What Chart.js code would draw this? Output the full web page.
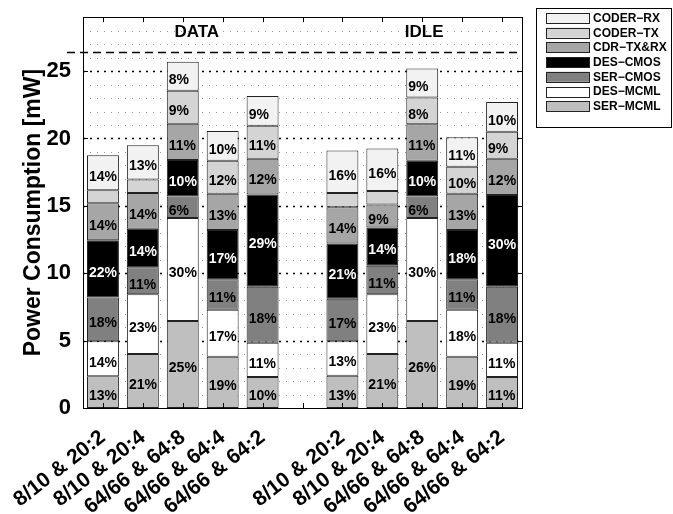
<!DOCTYPE html>
<html lang="en">
<head>
<meta charset="UTF-8">
<title>Power Consumption</title>
<script src="https://cdn.jsdelivr.net/npm/chart.js"></script>
<style>
  body { margin: 0; background: #fff; }
  #wrap { width: 673px; height: 514px; }
</style>
</head>
<body>
<div id="wrap"><canvas id="mycanvas"></canvas></div>
<script>
// categories (the 6th slot is the gap between DATA and IDLE)
const categories = ['8/10 & 20:2', '8/10 & 20:4', '64/66 & 64:8', '64/66 & 64:4', '64/66 & 64:2', '',
                    '8/10 & 20:2', '8/10 & 20:4', '64/66 & 64:8', '64/66 & 64:4', '64/66 & 64:2'];

// power per block [mW], bottom to top of the stack
const serMcml  = [2.35, 4.0, 6.45, 3.8, 2.3, null, 2.4, 4.0, 6.45, 3.8, 2.3];
const desMcml  = [2.6, 4.45, 7.65, 3.5, 2.55, null, 2.55, 4.45, 7.65, 3.5, 2.55];
const serCmos  = [3.25, 2.0, 1.6, 2.25, 4.15, null, 3.15, 2.1, 1.6, 2.25, 4.15];
const desCmos  = [4.25, 2.85, 2.7, 3.65, 6.85, null, 4.1, 2.85, 2.65, 3.65, 6.8];
const cdrTxRx  = [2.75, 2.65, 2.7, 2.7, 2.65, null, 2.7, 1.7, 2.7, 2.7, 2.7];
const coderTx  = [0.95, 1.0, 2.45, 2.45, 2.45, null, 1.05, 1.0, 2.0, 2.0, 2.0];
const coderRx  = [2.6, 2.55, 2.15, 2.2, 2.2, null, 3.15, 3.15, 2.15, 2.2, 2.2];

// percentage labels printed in each block
const serMcmlPct = [13, 21, 25, 19, 10, null, 13, 21, 26, 19, 11];
const desMcmlPct = [14, 23, 30, 17, 11, null, 13, 23, 30, 18, 11];
const serCmosPct = [18, 11, 6, 11, 18, null, 17, 11, 6, 11, 18];
const desCmosPct = [22, 14, 10, 17, 29, null, 21, 14, 10, 18, 30];
const cdrTxRxPct = [14, 14, 11, 13, 12, null, 14, 9, 11, 13, 12];
const coderTxPct = [null, null, 9, 12, 11, null, null, null, 8, 10, 9];
const coderRxPct = [14, 13, 8, 10, 9, null, 16, 16, 9, 11, 10];

const seriesNames = ['SER\u2212MCML', 'DES\u2212MCML', 'SER\u2212CMOS', 'DES\u2212CMOS', 'CDR\u2212TX&RX', 'CODER\u2212TX', 'CODER\u2212RX'];
const seriesValues = [serMcml, desMcml, serCmos, desCmos, cdrTxRx, coderTx, coderRx];
const seriesPct = [serMcmlPct, desMcmlPct, serCmosPct, desCmosPct, cdrTxRxPct, coderTxPct, coderRxPct];

// group headings and the dashed limit line
const groupNames = ['DATA', 'IDLE'];
const groupPos = [2.35, 8.05];
const limitLine = 26.4;
const yMax = 29;

const fills = ['#bfbfbf', '#ffffff', '#808080', '#000000', '#a6a6a6', '#d4d4d4', '#f2f2f2'];
const FONT = 'Arial, "Liberation Sans", Helvetica, sans-serif';

const decor = {
    id: 'decor',
    beforeDatasetsDraw(chart) {
        const { ctx, chartArea: a, scales: { y } } = chart;
        ctx.save();
        y.ticks.forEach(t => {
            if (t.value <= 0 || t.value >= y.max) return;
            const py = Math.round(y.getPixelForValue(t.value)) + 0.5;
            const major = t.value % 5 === 0;
            ctx.strokeStyle = major ? '#000' : '#999';
            ctx.lineWidth = major ? 1.4 : 1;
            ctx.setLineDash(major ? [2, 5] : [1, 6]);
            ctx.beginPath();
            ctx.moveTo(a.left, py);
            ctx.lineTo(a.right, py);
            ctx.stroke();
        });
        ctx.restore();
    },
    afterDatasetsDraw(chart) {
        const { ctx, chartArea: a, scales: { x, y } } = chart;
        ctx.save();

        // percentages inside the blocks
        ctx.font = 'bold 14px ' + FONT;
        ctx.textAlign = 'left';
        ctx.textBaseline = 'middle';
        chart.data.datasets.forEach((ds, di) => {
            const meta = chart.getDatasetMeta(di);
            meta.data.forEach((bar, i) => {
                const p = seriesPct[di][i];
                if (p == null) return;
                ctx.fillStyle = di === 3 ? '#fff' : '#000';
                ctx.fillText(p + '%', bar.x - bar.width / 2 + 2, (bar.y + bar.base) / 2 + 4);
            });
        });

        // dashed limit line
        const ly = Math.round(y.getPixelForValue(limitLine)) + 0.5;
        ctx.strokeStyle = '#000';
        ctx.lineWidth = 1.3;
        ctx.setLineDash([8, 5]);
        ctx.beginPath();
        ctx.moveTo(a.left - 16, ly);
        ctx.lineTo(a.right - 2, ly);
        ctx.stroke();
        ctx.setLineDash([]);

        // group headings
        const step = x.getPixelForValue(1) - x.getPixelForValue(0);
        ctx.font = 'bold 17px ' + FONT;
        ctx.textAlign = 'center';
        ctx.fillStyle = '#000';
        groupNames.forEach((g, i) => {
            ctx.fillText(g, x.getPixelForValue(0) + groupPos[i] * step, a.top + 15);
        });

        // frame and inward ticks
        ctx.lineWidth = 1;
        ctx.strokeStyle = '#000';
        ctx.strokeRect(Math.round(a.left) + 0.5, Math.round(a.top) + 0.5,
            Math.round(a.right - a.left), Math.round(a.bottom - a.top));
        ctx.beginPath();
        categories.forEach((c, i) => {
            const px = Math.round(x.getPixelForValue(i)) + 0.5;
            ctx.moveTo(px, a.bottom); ctx.lineTo(px, a.bottom - 5);
            ctx.moveTo(px, a.top); ctx.lineTo(px, a.top + 5);
        });
        y.ticks.forEach(t => {
            if (t.value % 5 !== 0 || t.value === 0) return;
            const py = Math.round(y.getPixelForValue(t.value)) + 0.5;
            ctx.moveTo(a.left, py); ctx.lineTo(a.left + 5, py);
            ctx.moveTo(a.right, py); ctx.lineTo(a.right - 5, py);
        });
        ctx.stroke();
        ctx.restore();
    },
    afterDraw(chart) {
        // legend box, top entry is the top of the stack
        const { ctx } = chart;
        ctx.save();
        ctx.fillStyle = '#fff';
        ctx.fillRect(536, 8, 136, 120);
        ctx.strokeStyle = '#000';
        ctx.lineWidth = 1;
        ctx.strokeRect(536.5, 8.5, 135, 119);
        ctx.font = 'bold 12px ' + FONT;
        ctx.textAlign = 'left';
        ctx.textBaseline = 'middle';
        for (let k = 0; k < seriesNames.length; k++) {
            const di = seriesNames.length - 1 - k;
            const top = 13 + k * 14.7;
            ctx.fillStyle = fills[di];
            ctx.fillRect(546, top, 43, 10);
            ctx.strokeStyle = '#222';
            ctx.strokeRect(546.5, Math.round(top) + 0.5, 43, 10);
            ctx.fillStyle = '#000';
            ctx.fillText(seriesNames[di], 593, top + 5.5);
        }
        ctx.restore();
    }
};

new Chart(document.getElementById('mycanvas'), {
    type: 'bar',
    data: {
        labels: categories,
        datasets: seriesNames.map((name, i) => ({
            label: name,
            data: seriesValues[i],
            backgroundColor: fills[i],
            borderColor: '#222',
            borderWidth: 1,
            borderSkipped: false,
            categoryPercentage: 0.8,
            barPercentage: 1.0
        }))
    },
    options: {
        responsive: true,
        maintainAspectRatio: false,
        animation: false,
        layout: { padding: { top: 7, right: 151, left: 0, bottom: 0 } },
        plugins: {
            legend: { display: false },
            tooltip: { enabled: false }
        },
        scales: {
            x: {
                stacked: true,
                grid: { display: false },
                border: { display: false },
                ticks: {
                    color: '#000',
                    font: { family: FONT, size: 21, weight: 'bold' },
                    minRotation: 38,
                    maxRotation: 38,
                    autoSkip: false,
                    padding: 9
                },
                afterFit: s => { s.height = 106; }
            },
            y: {
                stacked: true,
                min: 0,
                max: yMax,
                grid: { display: false },
                border: { display: false },
                ticks: {
                    stepSize: 1,
                    autoSkip: false,
                    color: '#000',
                    padding: 4,
                    font: { family: FONT, size: 22, weight: 'bold' },
                    callback: v => (v % 5 === 0 ? v : '')
                },
                title: {
                    display: true,
                    text: 'Power Consumption [mW]',
                    color: '#000',
                    font: { family: FONT, size: 23, weight: 'bold' },
                    padding: { top: 20, bottom: 0 }
                },
                afterFit: s => { s.width = 83; }
            }
        }
    },
    plugins: [decor]
});
</script>
</body>
</html>
